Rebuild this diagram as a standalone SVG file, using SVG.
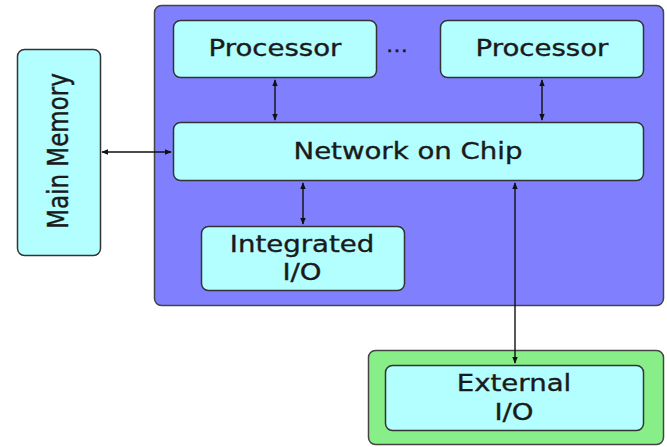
<svg xmlns="http://www.w3.org/2000/svg" width="667" height="447" viewBox="0 0 667 447">
  <style>
    .box { fill: #b3ffff; stroke: #333333; stroke-width: 1.5; }
    .chip { fill: #8080ff; stroke: #444444; stroke-width: 1.5; }
    .ext { fill: #88ee88; stroke: #444444; stroke-width: 1.5; }
    .lbl { font-family: "DejaVu Sans", Verdana, sans-serif; font-size: 23px; fill: #1a1a1a; stroke: #1a1a1a; stroke-width: 0.35; text-anchor: middle; }
    .link { stroke: #111111; stroke-width: 1.4; fill: none; marker-start: url(#head); marker-end: url(#head); }
  </style>
  <defs>
    <marker id="head" viewBox="0 0 10 10" refX="9" refY="5" markerWidth="7" markerHeight="7" markerUnits="userSpaceOnUse" orient="auto-start-reverse">
      <path d="M0,1 L10,5 L0,9 Z" fill="#111111"/>
    </marker>
  </defs>
  <rect width="667" height="447" fill="#ffffff"/>

  <!-- chip boundary -->
  <g id="chip">
    <rect class="chip" x="154.5" y="5.5" width="509" height="300" rx="7"/>
  </g>

  <!-- external I/O frame -->
  <g id="external-frame">
    <rect class="ext" x="368.5" y="350.5" width="295" height="94" rx="7"/>
  </g>

  <g id="main-memory">
    <rect class="box" x="17.5" y="49.5" width="83" height="206" rx="7"/>
    <text class="lbl" transform="translate(68,151) scale(1.2,1) rotate(-90)" x="0" y="0">Main Memory</text>
  </g>

  <g id="processor-1">
    <rect class="box" x="173.5" y="20.5" width="203" height="57" rx="7"/>
    <text class="lbl" transform="translate(275,56) scale(1.2,1)">Processor</text>
  </g>

  <g id="ellipsis">
    <text class="lbl" transform="translate(397,52) scale(1.1,1)" style="font-size:20px">…</text>
  </g>

  <g id="processor-2">
    <rect class="box" x="440.5" y="20.5" width="203" height="57" rx="7"/>
    <text class="lbl" transform="translate(542,56) scale(1.2,1)">Processor</text>
  </g>

  <g id="network-on-chip">
    <rect class="box" x="173.5" y="122.5" width="470" height="58" rx="7"/>
    <text class="lbl" transform="translate(408,159) scale(1.2,1)">Network on Chip</text>
  </g>

  <g id="integrated-io">
    <rect class="box" x="201.5" y="226.5" width="203" height="64" rx="7"/>
    <text class="lbl" transform="translate(302,252) scale(1.2,1)">Integrated</text>
    <text class="lbl" transform="translate(302,280) scale(1.2,1)">I/O</text>
  </g>

  <g id="external-io">
    <rect class="box" x="385.5" y="365.5" width="258" height="65" rx="7"/>
    <text class="lbl" transform="translate(514,391) scale(1.2,1)">External</text>
    <text class="lbl" transform="translate(514,420) scale(1.2,1)">I/O</text>
  </g>

  <g id="connectors">
    <line class="link" x1="275" y1="80" x2="275" y2="120"/>
    <line class="link" x1="542" y1="80" x2="542" y2="120"/>
    <line class="link" x1="102" y1="152" x2="171" y2="152"/>
    <line class="link" x1="303" y1="183" x2="303" y2="224"/>
    <line class="link" x1="515" y1="183" x2="515" y2="363"/>
  </g>
</svg>
